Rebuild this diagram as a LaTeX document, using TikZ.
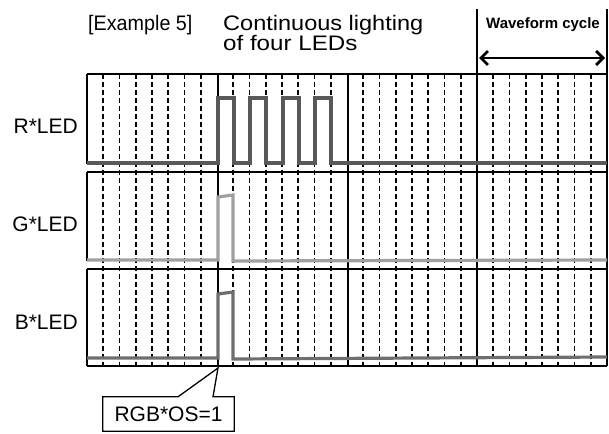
\documentclass[tikz,border=0pt]{standalone}
\usepackage{fontspec}
\setmainfont{Liberation Sans}
\usetikzlibrary{arrows.meta}

\definecolor{rled}{HTML}{595959}
\definecolor{gled}{HTML}{A0A0A0}
\definecolor{bled}{HTML}{6E6E6E}

\begin{document}
\begin{tikzpicture}[x=1pt, y=-1pt,
    txt/.style={inner sep=0pt, font=\fontsize{21}{21}\selectfont},
    frame/.style={line width=1.3pt},
    gridline/.style={line width=1.6pt, dash pattern=on 5pt off 3pt},
    wave/.style={line width=3.2pt, line join=miter}]
    \useasboundingbox (0,0) rectangle (609,433);

    % Title
    \node[txt, anchor=base west] (ttlA) at (88,31) {\scalebox{0.94}[1]{[Example 5]}};
    \node[txt, anchor=base west] (ttlB) at (223,31) {\scalebox{1.12}[1]{Continuous lighting}};
    \node[txt, anchor=base west] (ttlC) at (223,51) {\scalebox{1.15}[1]{of four LEDs}};

    % Row labels
    \node[txt, anchor=east] (rlbl) at (78,126) {R*LED};
    \node[txt, anchor=east] (glbl) at (78,224) {G*LED};
    \node[txt, anchor=east] (blbl) at (78,322) {B*LED};

    % Dashed grid
    \foreach \s in {0,...,3}
        \foreach \k in {1,...,7}
            \draw[gridline] ({87+130*\s+16.25*\k},74) -- ++(0,295);

    % Frame
    \foreach \y in {74,172,269,366}
        \draw[frame] (87,\y) -- (607,\y);
    \draw[frame] (87,74) -- (87,164);
    \draw[frame] (87,172) -- (87,261);
    \draw[frame] (87,269) -- (87,366);
    \foreach \x in {218,348}
        \draw[frame] (\x,74) -- (\x,366);
    \draw[frame] (477,9) -- (477,366);
    \draw[frame] (607,9) -- (607,366);

    % Waveform cycle
    \node[inner sep=0pt, font=\bfseries\fontsize{15}{16}\selectfont] (cyc) at (543,25) {Waveform cycle};
    \coordinate (cycL) at (479,58);
    \coordinate (cycR) at (605,58);
    \draw[line width=2.8pt, {Straight Barb[length=7pt,width=14pt]}-{Straight Barb[length=7pt,width=14pt]}] (cycL) -- (cycR);

    % Waves
    \draw[wave, draw=rled] (87,163) -| (218,98) -| (234,163) -| (250,98) -| (266,163)
        -| (283,98) -| (299,163) -| (315,98) -| (331,163) -- (607,163);
    \draw[wave, draw=gled] (87,260) -- (218,260) -- (218,197) -- (233,195) -- (233,261) -- (607,260);
    \draw[wave, draw=bled] (87,358) -- (218,358) -- (218,294) -- (233,292) -- (233,359) -- (607,357);

    % Callout
    \node[txt, minimum width=131pt, minimum height=34pt] (os) at (168.5,414) {RGB*OS=1};
    \coordinate (tip) at (218,368);
    \draw[frame] (os.north west) -- ([xshift=9.5pt]os.north) -- (tip)
        -- ([xshift=44.5pt]os.north) -- (os.north east) -- (os.south east)
        -- (os.south west) -- cycle;
\end{tikzpicture}
\end{document}
